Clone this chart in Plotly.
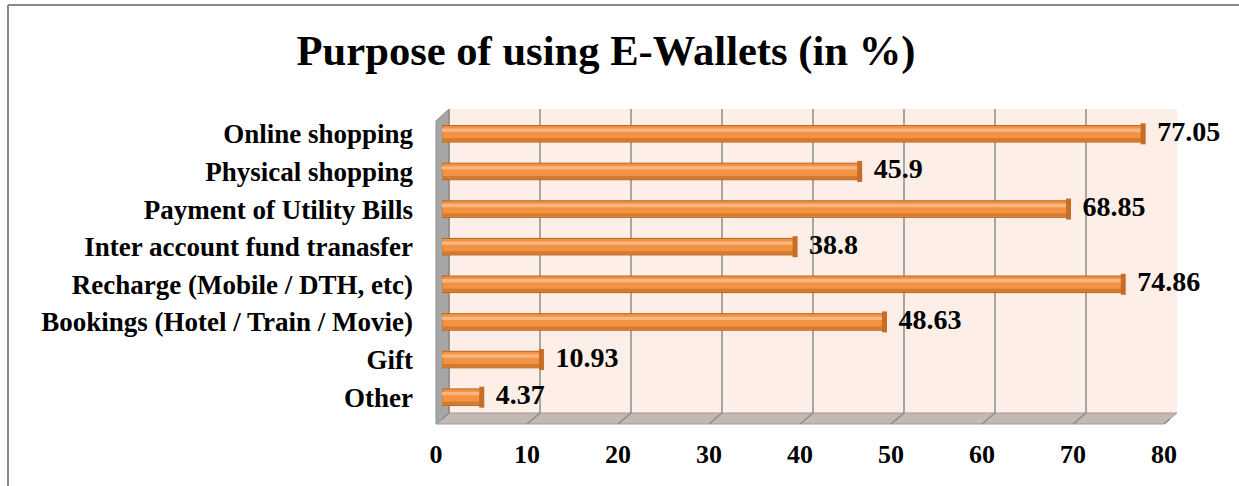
import plotly.graph_objects as go

categories = ["Online shopping", "Physical shopping", "Payment of Utility Bills",
              "Inter account fund tranasfer", "Recharge (Mobile / DTH, etc)",
              "Bookings (Hotel / Train / Movie)", "Gift", "Other"]
values = [77.05, 45.9, 68.85, 38.8, 74.86, 48.63, 10.93, 4.37]
value_labels = ["77.05", "45.9", "68.85", "38.8", "74.86", "48.63", "10.93", "4.37"]
x_ticks = [0, 10, 20, 30, 40, 50, 60, 70, 80]
title_text = "Purpose of using E-Wallets (in %)"

W, H = 1239, 486
FONT = "Liberation Serif"

FRONT_L, FRONT_R = 436, 1164   # front edge of floor (tick labels)
BAR_L, BAR_R = 442, 1170       # bar value axis (mid depth)
L, R = FRONT_L, BAR_R          # plotting area in pixels
T, B = 115, 416                # category rows
BACK_DX = 7                    # back wall offset from bar axis, px
WALL_TOP, WALL_BOT, FLOOR_BOT = 109, 413, 424


def px(x):
    return (x - L) / (R - L)


def py(y):
    return (B - y) / (B - T)


shapes = []
# back wall
shapes.append(dict(type="rect", xref="paper", yref="paper", layer="below",
                   x0=px(BAR_L + BACK_DX), x1=px(BAR_R + BACK_DX), y0=py(WALL_BOT), y1=py(WALL_TOP),
                   fillcolor="#FDEEE8", line=dict(width=0)))
# floor
shapes.append(dict(type="path", xref="paper", yref="paper", layer="below",
                   path=f"M {px(FRONT_L)},{py(FLOOR_BOT)} L {px(BAR_L + BACK_DX)},{py(WALL_BOT)} "
                        f"L {px(BAR_R + BACK_DX)},{py(WALL_BOT)} L {px(FRONT_R)},{py(FLOOR_BOT)} Z",
                   fillcolor="#C3B8B4", line=dict(color="#A39C99", width=1)))
# left wall
shapes.append(dict(type="path", xref="paper", yref="paper", layer="below",
                   path=f"M {px(FRONT_L)},{py(WALL_TOP + 12)} L {px(BAR_L + BACK_DX)},{py(WALL_TOP)} "
                        f"L {px(BAR_L + BACK_DX)},{py(WALL_BOT)} L {px(FRONT_L)},{py(FLOOR_BOT)} Z",
                   fillcolor="#A6A6A6", line=dict(color="#8E8E8E", width=1)))
# gridlines on back wall and floor
for t in x_ticks:
    shapes.append(dict(type="line", xref="x", yref="paper", xsizemode="pixel", xanchor=t,
                       layer="below", x0=BACK_DX, x1=BACK_DX, y0=py(WALL_BOT), y1=py(WALL_TOP),
                       line=dict(color="#8C8C8C", width=1.5)))
    shapes.append(dict(type="line", xref="x", yref="paper", xsizemode="pixel", xanchor=t,
                       layer="below", x0=FRONT_L - BAR_L, x1=BACK_DX, y0=py(FLOOR_BOT), y1=py(WALL_BOT),
                       line=dict(color="#8C8C8C", width=1.5)))
# outer border (cropped chart frame)
shapes.append(dict(type="line", xref="paper", yref="paper", x0=px(8), x1=px(W + 5),
                   y0=py(5), y1=py(5), line=dict(color="#888888", width=2)))
shapes.append(dict(type="line", xref="paper", yref="paper", x0=px(8), x1=px(8),
                   y0=py(5), y1=py(H + 5), line=dict(color="#888888", width=2)))

fig = go.Figure()
# cylinder body
fig.add_trace(go.Bar(y=categories, x=values, orientation="h", width=0.44,
                     marker=dict(color="#F29242", line=dict(color="#B8661F", width=1)),
                     hoverinfo="skip", showlegend=False))
# darker lower band
fig.add_trace(go.Bar(y=categories, x=values, orientation="h", width=0.08, offset=0.12,
                     marker=dict(color="#D27A2E", line=dict(width=0)),
                     hoverinfo="skip", showlegend=False))
# highlight band
fig.add_trace(go.Bar(y=categories, x=values, orientation="h", width=0.09, offset=-0.14,
                     marker=dict(color="#FBB67F", line=dict(width=0)),
                     hoverinfo="skip", showlegend=False))
# end cap
fig.add_trace(go.Scatter(y=categories, x=values, mode="markers", cliponaxis=False,
                         marker=dict(symbol="line-ns-open", size=15, color="#C76D25",
                                     line=dict(color="#C76D25", width=5)),
                         hoverinfo="skip", showlegend=False))
# value labels
fig.add_trace(go.Scatter(y=categories, x=values, mode="text", text=value_labels,
                         textposition="middle right", cliponaxis=False,
                         texttemplate="  %{text}",
                         textfont=dict(family=FONT, size=28, color="black", weight="bold"),
                         hoverinfo="skip", showlegend=False))
# invisible carrier so the front-edge tick axis is drawn
fig.add_trace(go.Scatter(x=x_ticks, y=[categories[0]] * len(x_ticks), xaxis="x2",
                         mode="markers", marker=dict(opacity=0),
                         hoverinfo="skip", showlegend=False))

fig.update_layout(
    width=W, height=H,
    margin=dict(l=L, r=W - R, t=T, b=H - B, autoexpand=False),
    paper_bgcolor="white", plot_bgcolor="rgba(0,0,0,0)",
    barmode="overlay",
    shapes=shapes,
    title=dict(text=title_text, x=606 / W, xanchor="center", xref="container",
               y=1 - 50 / H, yanchor="middle", yref="container",
               font=dict(family=FONT, size=42.6, color="black", weight="bold")),
    xaxis=dict(range=[0, 80], tickvals=x_ticks, domain=[px(BAR_L), 1.0],
               showgrid=False, zeroline=False,
               showline=False, ticks="", showticklabels=False, automargin=False),
    # front-edge axis carrying the tick labels (own domain, not overlaid)
    xaxis2=dict(range=[0, 80], tickvals=x_ticks, side="bottom",
                anchor="y", domain=[0.0, px(FRONT_R)],
                showgrid=False, zeroline=False, showline=False, ticks="",
                ticklabelstandoff=20, automargin=False,
                tickfont=dict(family=FONT, size=26, color="black", weight="bold")),
    yaxis=dict(type="category", range=[7.5, -0.5], showgrid=False, zeroline=False,
               showline=False, ticks="", ticklabelstandoff=28, automargin=False,
               tickfont=dict(family=FONT, size=27, color="black", weight="bold")),
)

fig.write_html("out.html", config={"displayModeBar": False},
               post_script="document.body.style.margin='0';")
